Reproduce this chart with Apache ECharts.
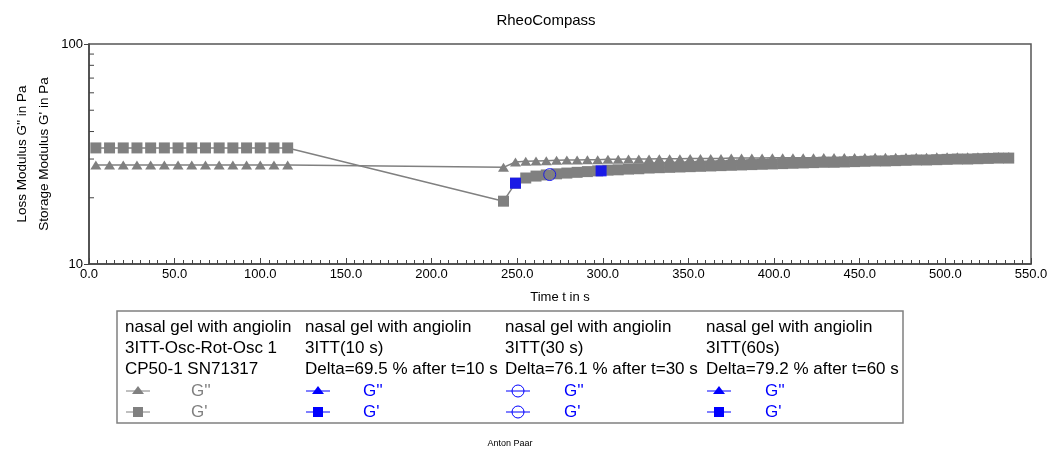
<!DOCTYPE html>
<html>
<head>
<meta charset="utf-8">
<script src="https://cdn.jsdelivr.net/npm/echarts@6/dist/echarts.min.js"></script>
<style>
  html, body { margin: 0; padding: 0; background: #fff; }
  #chart { width: 1052px; height: 451px; }
</style>
</head>
<body>
<div id="chart"></div>
<script>
// time in s for the gray measurement points (interval 1, then interval 3)
const timeS = [4, 12, 20, 28, 36, 44, 52, 60, 68, 76, 84, 92, 100, 108, 116,
  242, 249, 255, 261, 267, 273, 279, 285, 291, 297, 303, 309, 315, 321, 327, 333,
  339, 345, 351, 357, 363, 369, 375, 381, 387, 393, 399, 405, 411, 417, 423, 429,
  435, 441, 447, 453, 459, 465, 471, 477, 483, 489, 495, 501, 507, 513, 519, 525,
  531, 537];

// storage modulus G' in Pa
const storageG1 = [33.7, 33.7, 33.7, 33.7, 33.7, 33.7, 33.7, 33.7, 33.7, 33.7, 33.7, 33.7, 33.7, 33.7, 33.7,
  19.3, 23.3, 24.6, 25.1, 25.4, 25.7, 25.9, 26.1, 26.3, 26.5, 26.7, 26.8, 27.0, 27.1, 27.3, 27.4,
  27.5, 27.6, 27.7, 27.8, 27.9, 28.0, 28.1, 28.2, 28.3, 28.4, 28.5, 28.6, 28.7, 28.8, 28.9, 29.0,
  29.0, 29.1, 29.2, 29.3, 29.4, 29.4, 29.5, 29.6, 29.7, 29.7, 29.8, 29.9, 30.0, 30.0, 30.1, 30.2,
  30.3, 30.3];

// loss modulus G'' in Pa
const lossG1 = [28.2, 28.2, 28.2, 28.2, 28.2, 28.2, 28.2, 28.2, 28.2, 28.2, 28.2, 28.2, 28.2, 28.2, 28.2,
  27.5, 29.1, 29.3, 29.4, 29.5, 29.6, 29.7, 29.7, 29.8, 29.8, 29.9, 29.9, 30.0, 30.0, 30.0, 30.1,
  30.1, 30.1, 30.2, 30.2, 30.2, 30.2, 30.3, 30.3, 30.3, 30.3, 30.4, 30.4, 30.4, 30.4, 30.4, 30.5,
  30.5, 30.5, 30.5, 30.5, 30.6, 30.6, 30.6, 30.6, 30.6, 30.6, 30.7, 30.7, 30.7, 30.7, 30.7, 30.7,
  30.8, 30.8];

// recovery points picked out by the analysis (time, G')
const rec10 = [[249, 23.3]];
const rec30 = [[269, 25.5]];
const rec60 = [[299, 26.5]];

const yMinorTicks = [20, 30, 40, 50, 60, 70, 80, 90];

const legendHeads = [
  ['nasal gel with angiolin', '3ITT-Osc-Rot-Osc 1', 'CP50-1 SN71317'],
  ['nasal gel with angiolin', '3ITT(10 s)', 'Delta=69.5 % after t=10 s'],
  ['nasal gel with angiolin', '3ITT(30 s)', 'Delta=76.1 % after t=30 s'],
  ['nasal gel with angiolin', '3ITT(60s)', 'Delta=79.2 % after t=60 s']
];

const GRAY = '#808080';
const BLUE = '#0000ff';
const FONT = '"Liberation Sans", Arial, sans-serif';

const zip = (xs, ys) => xs.map((x, i) => [x, ys[i]]);

// legend drawn by hand (4 columns, text block + 2 symbol rows)
const colX = [125, 305, 505, 706];
const symStyle = [
  { c: GRAY, t: 'tri', s: 'rect', lab: 191 },
  { c: BLUE, t: 'tri', s: 'rect', lab: 363 },
  { c: BLUE, t: 'circ', s: 'circ', lab: 564 },
  { c: BLUE, t: 'tri', s: 'rect', lab: 765 }
];
const legendGfx = [{
  type: 'rect', shape: { x: 117, y: 311, width: 786, height: 112 },
  style: { fill: 'none', stroke: '#808080', lineWidth: 1.5 }
}];
function marker(kind, cx, cy, color) {
  if (kind === 'tri') {
    return { type: 'polygon', shape: { points: [[cx, cy - 5], [cx - 6, cy + 3], [cx + 6, cy + 3]] }, style: { fill: color } };
  }
  if (kind === 'rect') {
    return { type: 'rect', shape: { x: cx - 5, y: cy - 5, width: 10, height: 10 }, style: { fill: color } };
  }
  return { type: 'circle', shape: { cx: cx, cy: cy, r: 6 }, style: { fill: 'none', stroke: color, lineWidth: 1 } };
}
legendHeads.forEach((lines, i) => {
  lines.forEach((txt, j) => {
    legendGfx.push({
      type: 'text', x: colX[i], y: 327 + j * 21,
      style: { text: txt, font: '17px ' + FONT, fill: '#000', textVerticalAlign: 'middle' }
    });
  });
  const st = symStyle[i];
  [[391, st.t, 'G\'\''], [412, st.s, 'G\'']].forEach(([yy, kind, lab]) => {
    legendGfx.push({ type: 'line', shape: { x1: colX[i] + 1, y1: yy, x2: colX[i] + 25, y2: yy }, style: { stroke: st.c, lineWidth: 1 } });
    legendGfx.push(marker(kind, colX[i] + 13, yy, st.c));
    legendGfx.push({
      type: 'text', x: st.lab, y: yy,
      style: { text: lab, font: '17px ' + FONT, fill: st.c, textVerticalAlign: 'middle' }
    });
  });
});

const chart = echarts.init(document.getElementById('chart'), null, { renderer: 'canvas' });
chart.setOption({
  backgroundColor: '#fff',
  animation: false,
  textStyle: { fontFamily: FONT },
  title: {
    text: 'RheoCompass', left: 541, top: 8, textAlign: 'center',
    textStyle: { fontSize: 15, fontWeight: 'normal', color: '#000', fontFamily: FONT }
  },
  grid: { left: 89, right: 21, top: 44, bottom: 187, show: true, borderColor: '#555', borderWidth: 1.5 },
  xAxis: {
    type: 'value', min: 0, max: 550, interval: 50,
    name: 'Time t in s', nameLocation: 'middle', nameGap: 27,
    nameTextStyle: { fontSize: 13, color: '#000' },
    axisLine: { lineStyle: { color: '#444', width: 1.5 } },
    axisTick: { inside: true, length: 6, lineStyle: { color: '#444' } },
    minorTick: { show: true, splitNumber: 10, length: 4, lineStyle: { color: '#444' } },
    axisLabel: { fontSize: 13, color: '#000', margin: 4, formatter: v => v.toFixed(1) },
    splitLine: { show: false }
  },
  yAxis: {
    type: 'log', logBase: 10, min: 10, max: 100,
    axisLine: { show: true, lineStyle: { color: '#444', width: 1.5 } },
    axisTick: { inside: false, length: 5, lineStyle: { color: '#444' } },
    axisLabel: { fontSize: 13, color: '#000', margin: 6 },
    splitLine: { show: false }
  },
  graphic: [
    {
      type: 'text', x: 33, y: 154, rotation: Math.PI / 2,
      style: {
        text: 'Loss Modulus G\'\' in Pa\nStorage Modulus G\' in Pa', font: '13.5px ' + FONT, fill: '#000',
        textAlign: 'center', textVerticalAlign: 'middle', lineHeight: 22
      }
    },
    {
      type: 'text', x: 510, y: 444,
      style: { text: 'Anton Paar', font: '9px ' + FONT, fill: '#000', textAlign: 'center', textVerticalAlign: 'middle' }
    }
  ].concat(legendGfx),
  series: [
    {
      name: 'minor y ticks', type: 'custom', silent: true, clip: false,
      data: yMinorTicks.map(v => [0, v]),
      renderItem: (params, api) => {
        const p = api.coord([api.value(0), api.value(1)]);
        return { type: 'line', shape: { x1: p[0], y1: p[1], x2: p[0] + 5, y2: p[1] }, style: { stroke: '#444', lineWidth: 1 } };
      }
    },
    {
      name: 'G\'\'', type: 'line', data: zip(timeS, lossG1), z: 2,
      symbol: 'triangle', symbolSize: [11, 9], showAllSymbol: true,
      lineStyle: { color: GRAY, width: 1.5 }, itemStyle: { color: GRAY }
    },
    {
      name: 'G\'', type: 'line', data: zip(timeS, storageG1), z: 3,
      symbol: 'rect', symbolSize: 11, showAllSymbol: true,
      lineStyle: { color: GRAY, width: 1.5 }, itemStyle: { color: GRAY }
    },
    {
      name: '10 s', type: 'scatter', data: rec10, symbol: 'rect', symbolSize: 11, z: 10,
      itemStyle: { color: BLUE }
    },
    {
      name: '30 s', type: 'scatter', data: rec30, symbol: 'circle', symbolSize: 12, z: 10,
      itemStyle: { color: 'rgba(0,0,0,0)', borderColor: BLUE, borderWidth: 1 }
    },
    {
      name: '60 s', type: 'scatter', data: rec60, symbol: 'rect', symbolSize: 11, z: 10,
      itemStyle: { color: BLUE }
    }
  ]
});
</script>
</body>
</html>
